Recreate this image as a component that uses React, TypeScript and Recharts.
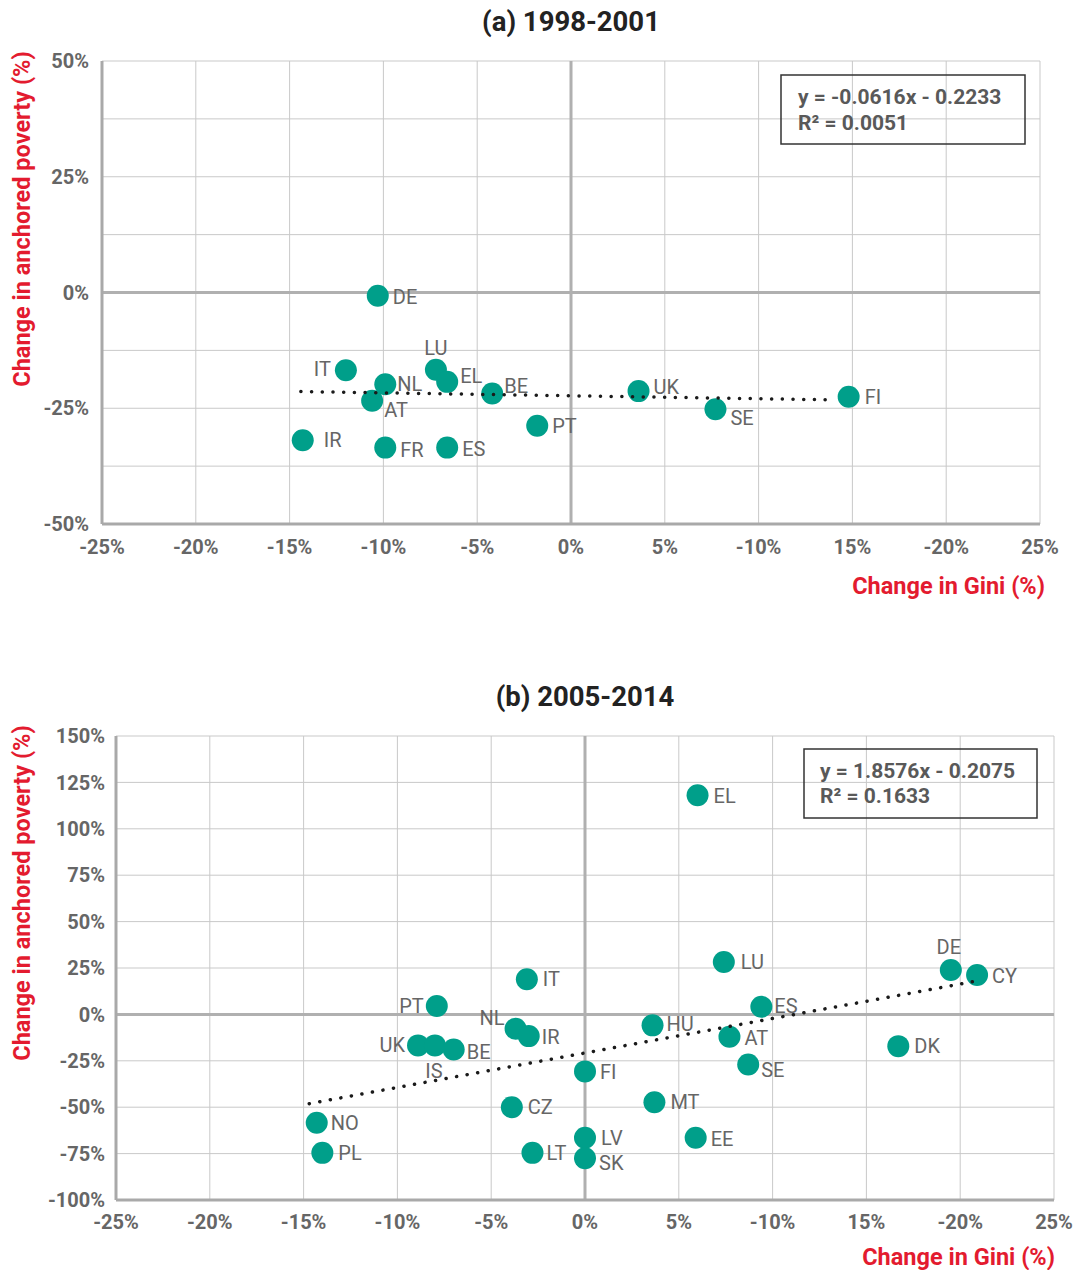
import React from "react";
import { ScatterChart, Scatter, XAxis, YAxis, CartesianGrid, ReferenceLine } from "recharts";

// (a) 1998-2001
const countriesA = ["DE", "IT", "LU", "NL", "EL", "AT", "BE", "UK", "PT", "IR", "FR", "ES", "SE", "FI"];
const giniA = [-10.3, -12.0, -7.2, -9.9, -6.6, -10.6, -4.2, 3.6, -1.8, -14.3, -9.9, -6.6, 7.7, 14.8];
const povertyA = [-0.7, -16.8, -16.7, -19.8, -19.3, -23.4, -21.8, -21.3, -28.8, -31.9, -33.5, -33.5, -25.2, -22.5];
const trendGiniA = [-14.4, 14.1];
const trendPovertyA = [-21.4, -23.2];

// (b) 2005-2014
const countriesB = ["EL", "LU", "DE", "CY", "IT", "PT", "ES", "NL", "IR", "HU", "AT", "UK", "IS", "BE", "DK", "SE", "FI", "MT", "CZ", "NO", "PL", "LV", "EE", "LT", "SK"];
const giniB = [6.0, 7.4, 19.5, 20.9, -3.1, -7.9, 9.4, -3.7, -3.0, 3.6, 7.7, -8.9, -8.0, -7.0, 16.7, 8.7, 0.0, 3.7, -3.9, -14.3, -14.0, 0.0, 5.9, -2.8, 0.0];
const povertyB = [118.1, 28.2, 23.9, 21.2, 18.9, 4.5, 4.1, -7.7, -11.7, -5.9, -12.0, -16.7, -16.7, -18.9, -17.1, -27.0, -30.7, -47.3, -50.0, -58.4, -74.6, -66.5, -66.5, -74.6, -77.5];
const trendGiniB = [-14.7, 21.1];
const trendPovertyB = [-48.1, 18.4];

const giniTicks = [-25, -20, -15, -10, -5, 0, 5, 10, 15, 20, 25];
const giniTickLabels = ["-25%", "-20%", "-15%", "-10%", "-5%", "0%", "5%", "-10%", "15%", "-20%", "25%"];
const povertyTicksA = [-50, -37.5, -25, -12.5, 0, 12.5, 25, 37.5, 50];
const povertyTicksB = [-100, -75, -50, -25, 0, 25, 50, 75, 100, 125, 150];

// label placement per country: [dx, dy, anchor]
type Place = [number, number, "start" | "end" | "middle"];
const placeA: Record<string, Place> = {
  DE: [15, 1, "start"], IT: [-15, -1, "end"], LU: [0, -22, "middle"], NL: [12, 0, "start"],
  AT: [12, 9, "start"], EL: [13, -6, "start"], BE: [12, -7, "start"], UK: [15, -4, "start"],
  PT: [15, 0, "start"], IR: [21, 0, "start"], FR: [15, 2, "start"], ES: [15, 1, "start"],
  SE: [15, 9, "start"], FI: [16, 0, "start"],
};
const placeB: Record<string, Place> = {
  EL: [16, 1, "start"], LU: [17, 0, "start"], DE: [-2, -23, "middle"], CY: [15, 1, "start"],
  IT: [16, 0, "start"], PT: [-13, 0, "end"], ES: [13, -1, "start"], NL: [-11, -11, "end"],
  IR: [13, 1, "start"], HU: [14, -1, "start"], AT: [15, 1, "start"], UK: [-13, 0, "end"],
  IS: [-1, 26, "middle"], BE: [13, 3, "start"], DK: [16, 0, "start"], SE: [13, 5, "start"],
  FI: [15, 1, "start"], MT: [16, 0, "start"], CZ: [16, 0, "start"], NO: [14, 0, "start"],
  PL: [16, 0, "start"], LV: [16, 0, "start"], EE: [15, 1, "start"], LT: [14, 0, "start"],
  SK: [14, 5, "start"],
};

const TEAL = "#009f8a";
const GREY = "#666666";
const RED = "#e31b2f";
const FONT = "Roboto, 'Noto Sans', sans-serif";

const toPoints = (names: string[], xs: number[], ys: number[]) =>
  names.map((name, i) => ({ name, x: xs[i], y: ys[i] }));
const toLine = (xs: number[], ys: number[]) => xs.map((x, i) => ({ x, y: ys[i] }));

interface PanelProps {
  top: number;
  height: number;
  margin: { top: number; right: number; bottom: number; left: number };
  points: { name: string; x: number; y: number }[];
  trend: { x: number; y: number }[];
  yDomain: [number, number];
  yTicks: number[];
  yTickMargin: number;
  xTickMargin: number;
  place: Record<string, Place>;
}

function Panel({ top, height, margin, points, trend, yDomain, yTicks, yTickMargin, xTickMargin, place }: PanelProps) {
  const tickStyle = { fontSize: 20, fontWeight: 700, fill: GREY, fontFamily: FONT };
  const axisLine = { stroke: "#a9a9a9", strokeWidth: 3 };
  return (
    <div style={{ position: "absolute", left: 0, top }}>
      <ScatterChart width={1080} height={height} margin={margin}>
        <CartesianGrid stroke="#c9c9c9" strokeWidth={1} />
        <XAxis
          type="number"
          dataKey="x"
          domain={[-25, 25]}
          ticks={giniTicks}
          tickFormatter={(v: number) => giniTickLabels[giniTicks.indexOf(v)] ?? ""}
          axisLine={axisLine}
          tickLine={false}
          tickSize={6}
          tickMargin={xTickMargin}
          tick={tickStyle}
          height={30}
          allowDataOverflow
        />
        <YAxis
          type="number"
          dataKey="y"
          domain={yDomain}
          ticks={yTicks}
          tickFormatter={(v: number) => (v % 25 === 0 ? `${v}%` : "")}
          axisLine={axisLine}
          tickLine={false}
          tickSize={6}
          tickMargin={yTickMargin}
          tick={tickStyle}
          width={60}
          allowDataOverflow
        />
        <ReferenceLine x={0} stroke="#b0b0b0" strokeWidth={3} />
        <ReferenceLine y={0} stroke="#b0b0b0" strokeWidth={3} />
        <Scatter
          data={points}
          isAnimationActive={false}
          shape={(p: any) => <circle cx={p.cx} cy={p.cy} r={11} fill={TEAL} />}
        />
        <Scatter
          data={points}
          isAnimationActive={false}
          shape={(p: any) => {
            const pl = place[p.payload.name] ?? [15, 0, "start"];
            return (
              <text
                x={p.cx + pl[0]}
                y={p.cy + pl[1]}
                textAnchor={pl[2]}
                dominantBaseline="central"
                fontSize={20}
                fontFamily={FONT}
                fill={GREY}
              >
                {p.payload.name}
              </text>
            );
          }}
        />
        <Scatter
          data={trend}
          isAnimationActive={false}
          line={{ stroke: "#1a1a1a", strokeWidth: 3.5, strokeDasharray: "0.1 10.6", strokeLinecap: "round" }}
          shape={() => <g />}
        />
      </ScatterChart>
    </div>
  );
}

export default function App() {
  const pointsA = toPoints(countriesA, giniA, povertyA);
  const pointsB = toPoints(countriesB, giniB, povertyB);
  return (
    <div style={{ position: "absolute", left: 0, top: 0, width: 1080, height: 1270, background: "#fff", fontFamily: FONT }}>
      <Panel
        top={0}
        height={600}
        margin={{ top: 61, right: 40, bottom: 46, left: 42 }}
        points={pointsA}
        trend={toLine(trendGiniA, trendPovertyA)}
        yDomain={[-50, 50]}
        yTicks={povertyTicksA}
        yTickMargin={7}
        xTickMargin={10}
        place={placeA}
      />
      <Panel
        top={640}
        height={630}
        margin={{ top: 96, right: 26, bottom: 40, left: 56 }}
        points={pointsB}
        trend={toLine(trendGiniB, trendPovertyB)}
        yDomain={[-100, 150]}
        yTicks={povertyTicksB}
        yTickMargin={5}
        xTickMargin={9}
        place={placeB}
      />
      <svg width={1080} height={1270} style={{ position: "absolute", left: 0, top: 0, pointerEvents: "none" }}>
        <g fontFamily={FONT} fontWeight={700}>
          <text x={571} y={21} textAnchor="middle" dominantBaseline="central" fontSize={27.5} fill="#222">(a) 1998-2001</text>
          <text x={585} y={696} textAnchor="middle" dominantBaseline="central" fontSize={27.5} fill="#222">(b) 2005-2014</text>
          <text transform="translate(22,219) rotate(-90)" textAnchor="middle" dominantBaseline="central" fontSize={23.5} fill={RED}>Change in anchored poverty (%)</text>
          <text transform="translate(22,893) rotate(-90)" textAnchor="middle" dominantBaseline="central" fontSize={23.5} fill={RED}>Change in anchored poverty (%)</text>
          <text x={1045} y={586} textAnchor="end" dominantBaseline="central" fontSize={23.5} fill={RED}>Change in Gini (%)</text>
          <text x={1055} y={1257} textAnchor="end" dominantBaseline="central" fontSize={23.5} fill={RED}>Change in Gini (%)</text>
          <rect x={781} y={75} width={244} height={69} fill="none" stroke="#333" strokeWidth={1.5} />
          <text x={798} y={97} dominantBaseline="central" fontSize={21} fill="#595959">y = -0.0616x - 0.2233</text>
          <text x={798} y={123} dominantBaseline="central" fontSize={21} fill="#595959">R² = 0.0051</text>
          <rect x={804} y={749} width={233} height={69} fill="none" stroke="#333" strokeWidth={1.5} />
          <text x={820} y={771} dominantBaseline="central" fontSize={21} fill="#595959">y = 1.8576x - 0.2075</text>
          <text x={820} y={796} dominantBaseline="central" fontSize={21} fill="#595959">R² = 0.1633</text>
        </g>
      </svg>
    </div>
  );
}
